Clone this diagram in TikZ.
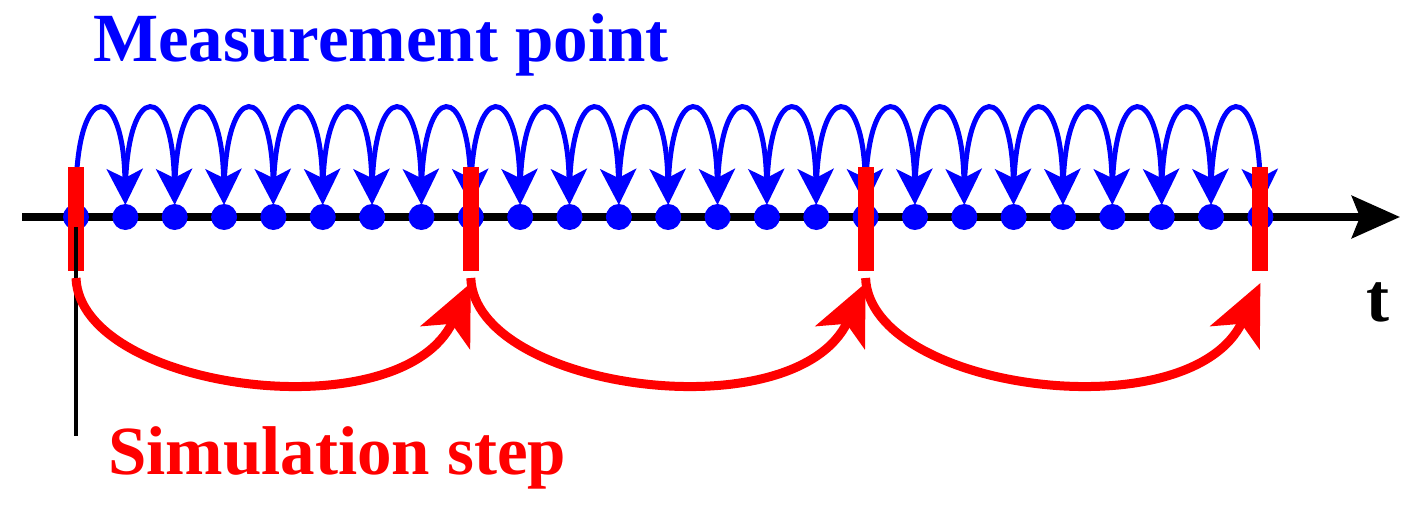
\documentclass[tikz,border=0pt]{standalone}
\usepackage{fontspec}
\setmainfont{Liberation Serif}
\usetikzlibrary{arrows.meta,calc}
\begin{document}
\begin{tikzpicture}[x=1pt,y=-1pt,
  dot/.style={circle,fill=blue,inner sep=0pt,minimum size=26pt},
  tick/.style={fill=red},
  meas/.style={draw=blue,line width=5pt,-{Stealth[length=36pt,width=36pt,inset=9pt]}},
  sim/.style={draw=red,line width=9pt,-{Stealth[length=60pt,width=54pt,inset=15pt]}},
  lbl/.style={font=\fontsize{69}{69}\selectfont\bfseries,inner sep=0pt,anchor=west}]
\useasboundingbox (0,0) rectangle (1424,506);
\draw[line width=8pt,-{Stealth[length=48pt,width=42pt,inset=8pt]}] (22,217) -- (1400,217);
\foreach \i in {0,...,24}{
  \node[dot] (d\i) at ({76+49.35*\i},217) {};
}
\foreach \i [evaluate=\i as \j using int(\i+1)] in {0,...,23}{
  \draw[meas] ($(d\i)+(0,-27)$) .. controls +(2,-112) and +(-2,-122) .. ($(d\j)+(0,-12)$);
}
\foreach \i/\x in {0/76,1/470.8,2/865.6,3/1260.4}{
  \fill[tick] ({\x-8},167) rectangle ({\x+8},271);
  \coordinate (ts\i) at (\x,278);
  \coordinate (te\i) at (\x,283);
}
\draw[black,line width=4pt] (76,227) -- (76,436);
\foreach \i/\j in {0/1,1/2,2/3}{
  \draw[sim] (ts\i) .. controls +(4,112) and +(-70,150) .. (te\j);
}
\node[lbl,text=blue] (mp) at (93,45) {Measurement point};
\node[lbl,text=red] (ss) at (108,458) {Simulation step};
\node[lbl,anchor=center] (t) at (1378,302) {t};
\end{tikzpicture}
\end{document}
